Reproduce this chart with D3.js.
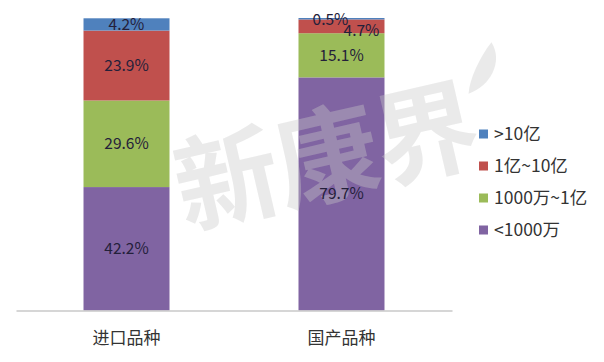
<!DOCTYPE html>
<html>
<head>
<meta charset="utf-8">
<script src="https://cdn.jsdelivr.net/npm/d3@7"></script>
<style>
  body { margin: 0; background: #fff; }
  svg { display: block; font-family: "Noto Sans CJK SC", "Noto Sans", sans-serif; }
</style>
</head>
<body>
<svg width="604" height="362"></svg>
<script>
var categories = ["进口品种", "国产品种"];
var seriesNames = ["<1000万", "1000万~1亿", "1亿~10亿", ">10亿"];
var legendLabels = [">10亿", "1亿~10亿", "1000万~1亿", "<1000万"];
var importValues = [42.2, 29.6, 23.9, 4.2];
var domesticValues = [79.7, 15.1, 4.7, 0.5];
var colors = ["#8064A2", "#9BBB59", "#C0504D", "#4F81BD"];

var svg = d3.select("svg");

var rows = categories.map(function (c, i) {
    var vals = i === 0 ? importValues : domesticValues;
    var r = { cat: c };
    seriesNames.forEach(function (s, j) { r[s] = vals[j]; });
    return r;
});

var x = d3.scaleBand().domain(categories).range([16, 452]).paddingInner(0.6).paddingOuter(0.314);
var y = d3.scaleLinear().domain([0, 100]).range([310.5, 18]);

var layers = d3.stack().keys(seriesNames)(rows);

var g = svg.append("g");

g.selectAll(".layer")
    .data(layers)
    .enter().append("g")
    .attr("fill", function (d, i) { return colors[i]; })
    .selectAll("rect")
    .data(function (d) { return d; })
    .enter().append("rect")
    .attr("x", function (d) { return x(d.data.cat); })
    .attr("width", x.bandwidth())
    .attr("y", function (d) { return y(d[1]); })
    .attr("height", function (d) { return y(d[0]) - y(d[1]); });

// watermark
var wmFill = "rgba(200,200,200,0.38)";
var wm = svg.append("g").attr("transform", "translate(326,158) rotate(-13)");
wm.append("text")
    .attr("text-anchor", "middle")
    .attr("dy", "0.35em")
    .style("font-size", "104px")
    .style("font-weight", "bold")
    .style("letter-spacing", "-2px")
    .style("fill", wmFill)
    .text("新康界");
svg.append("path")
    .attr("transform", "translate(480,68) rotate(20)")
    .attr("d", "M2,-28 C20,-14 16,14 -2,28 C-6,14 -4,-10 2,-28 Z")
    .attr("fill", wmFill);

// value labels
var labelOffsets = { "国产品种|>10亿": [-11, 1], "国产品种|1亿~10亿": [20, 4] };
layers.forEach(function (layer) {
    layer.forEach(function (d) {
        var off = labelOffsets[d.data.cat + "|" + layer.key] || [0, 0];
        svg.append("text")
            .attr("x", x(d.data.cat) + x.bandwidth() / 2 + off[0])
            .attr("y", (y(d[0]) + y(d[1])) / 2 + off[1])
            .attr("dy", "0.35em")
            .attr("text-anchor", "middle")
            .style("font-size", "15.5px")
            .style("fill", "#24203a")
            .text(d.data[layer.key].toFixed(1) + "%");
    });
});

// axis
var axis = svg.append("g").attr("transform", "translate(0,310.5)")
    .call(d3.axisBottom(x).tickSize(0).tickPadding(21));
axis.select(".domain").attr("stroke", "#c8c8c8").attr("stroke-width", 1.5);
axis.selectAll(".tick text")
    .style("font-size", "17px")
    .style("font-family", "\"Noto Sans CJK SC\", sans-serif")
    .style("fill", "#333");

// legend
var legend = svg.append("g").attr("transform", "translate(479,134)");
var item = legend.selectAll(".item")
    .data(legendLabels)
    .enter().append("g")
    .attr("transform", function (d, i) { return "translate(0," + i * 32 + ")"; });
item.append("rect")
    .attr("x", 0).attr("y", -4.5)
    .attr("width", 9).attr("height", 9)
    .attr("fill", function (d) { return colors[seriesNames.indexOf(d)]; });
item.append("text")
    .attr("x", 15)
    .attr("dy", "0.35em")
    .style("font-size", "17.5px")
    .style("fill", "#333")
    .text(function (d) { return d; });
</script>
</body>
</html>
